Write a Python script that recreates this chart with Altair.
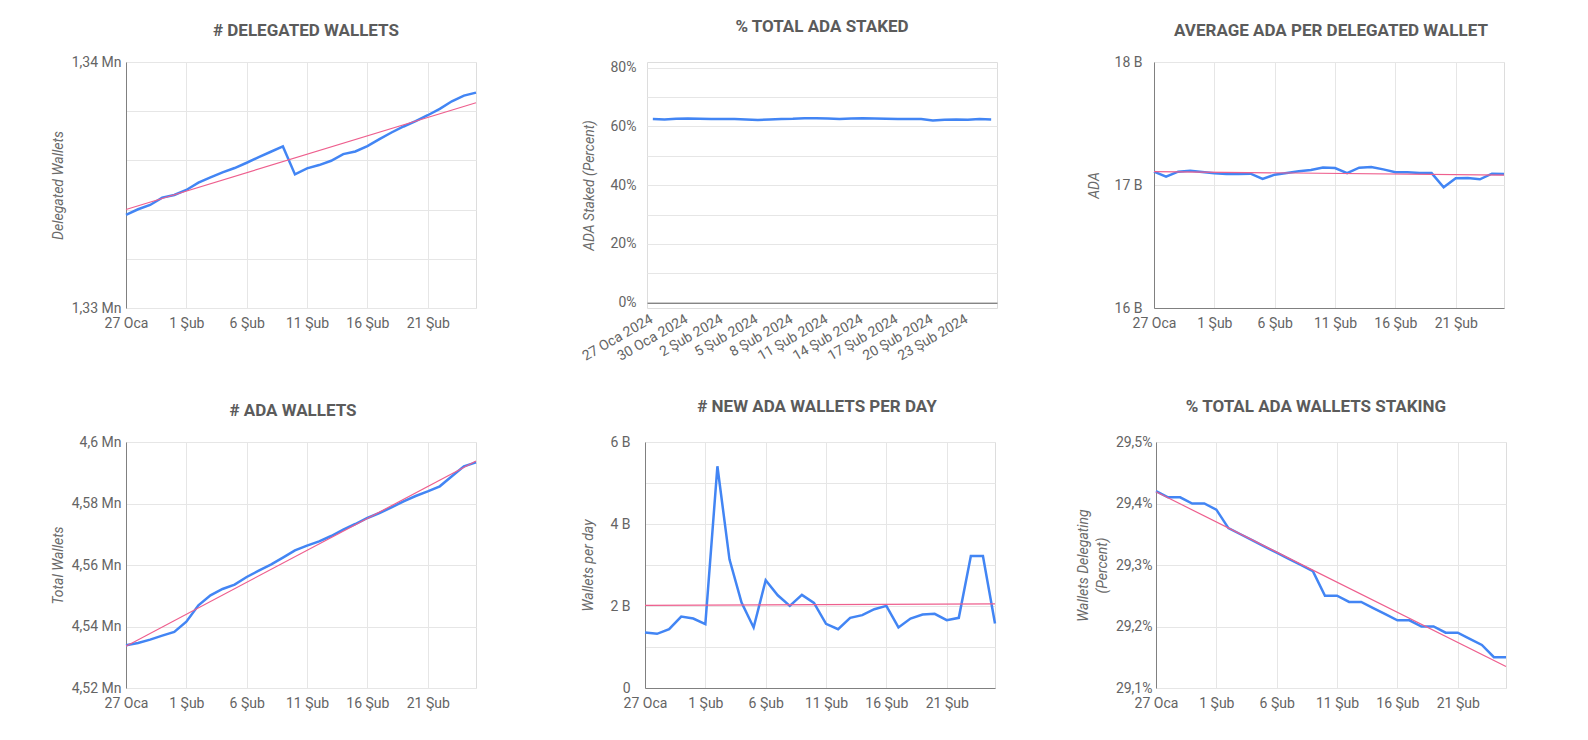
import altair as alt
import pandas as pd
from datetime import datetime, timezone, timedelta

FONT = "Roboto"
BLUE = "#4285F4"
PINK = "#EE5F8E"
GRID = "#e6e6e6"
AXIS_DARK = "#808080"
LABEL = "#646464"
TITLE_C = "#5b5b5b"

# ---- categories (30 days, 27 Jan 2024 -> 25 Feb 2024) ----
START = datetime(2024, 1, 27, tzinfo=timezone.utc)
DATES = [START + timedelta(days=i) for i in range(30)]
TS = [int(d.timestamp() * 1000) for d in DATES]
MONTHS_TR = {1: "Oca", 2: "Şub"}
DATE_LABELS = [f"{d.day} {MONTHS_TR[d.month]} {d.year}" for d in DATES]
TICK_TS = TS[0::5]            # 27 Oca, 1 Şub, 6 Şub, 11 Şub, 16 Şub, 21 Şub
TICK_LABELS_P2 = DATE_LABELS[0::3]

# ---- series values ----
DELEGATED = [1333784, 1334013, 1334189, 1334486, 1334594, 1334797, 1335094, 1335310,
             1335513, 1335689, 1335905, 1336135, 1336351, 1336567, 1335431, 1335675,
             1335810, 1335985, 1336255, 1336364, 1336580, 1336864, 1337134, 1337378,
             1337593, 1337836, 1338093, 1338404, 1338633, 1338755]
STAKED = [62.5, 62.4, 62.6, 62.7, 62.6, 62.5, 62.5, 62.5, 62.4, 62.2,
          62.4, 62.5, 62.6, 62.8, 62.8, 62.7, 62.5, 62.7, 62.8, 62.7,
          62.6, 62.5, 62.5, 62.5, 62.0, 62.3, 62.4, 62.3, 62.5, 62.4]
AVG_ADA = [17108, 17068, 17108, 17116, 17105, 17095, 17089, 17089, 17092, 17049,
           17084, 17097, 17111, 17122, 17143, 17138, 17097, 17141, 17146, 17127,
           17103, 17103, 17097, 17097, 16981, 17054, 17057, 17046, 17092, 17089]
TOTAL_WALLETS = [4533875, 4534634, 4535718, 4537019, 4538211, 4541572, 4546883, 4550135,
                 4552195, 4553604, 4556097, 4558157, 4560108, 4562384, 4564769, 4566287,
                 4567696, 4569430, 4571490, 4573333, 4575284, 4576910, 4578753, 4580704,
                 4582438, 4583956, 4585582, 4588834, 4592086, 4593387]
NEW_WALLETS = [1354, 1322, 1435, 1743, 1695, 1557, 5408, 3138, 2084, 1476,
               2627, 2262, 2003, 2270, 2076, 1565, 1435, 1711, 1776, 1922,
               2003, 1476, 1695, 1792, 1808, 1654, 1711, 3219, 3219, 1573]
STAKING_PCT = [29.42, 29.41, 29.41, 29.40, 29.40, 29.39, 29.36, 29.35, 29.34, 29.33,
               29.32, 29.31, 29.30, 29.29, 29.25, 29.25, 29.24, 29.24, 29.23, 29.22,
               29.21, 29.21, 29.20, 29.20, 29.19, 29.19, 29.18, 29.17, 29.15, 29.15]

# ---- y tick values ----
Y1_TICKS = [1330000, 1332000, 1334000, 1336000, 1338000, 1340000]
Y2_TICKS = [0, 10, 20, 30, 40, 50, 60, 70, 80]
Y3_TICKS = [16000, 17000, 18000]
Y4_TICKS = [4520000, 4530000, 4540000, 4550000, 4560000, 4570000, 4580000, 4590000, 4600000]
Y5_TICKS = [0, 1000, 2000, 3000, 4000, 5000, 6000]
Y6_TICKS = [29.1, 29.15, 29.2, 29.25, 29.3, 29.35, 29.4, 29.45, 29.5]

DATE_EXPR = "utcdate(datum.value) + ' ' + (utcmonth(datum.value) == 0 ? 'Oca' : 'Şub')"
MN_EXPR = "replace(format(datum.value / 1000000, '~g'), '.', ',') + ' Mn'"

W = 350
H = 246


def title_params(text, offset, dx):
    return alt.TitleParams(text=text, offset=offset, dx=dx, fontSize=17, fontWeight="bold",
                           color=TITLE_C, font=FONT, anchor="middle")


def y_axis(ticks, expr, ytitle, title_x, label_pad, height, domain=True):
    return alt.Axis(values=ticks, labelExpr=expr, grid=True, gridColor=GRID, domain=domain,
                    domainColor=AXIS_DARK, domainWidth=1, ticks=False, labelPadding=label_pad,
                    labelFontSize=14, labelColor=LABEL, labelFont=FONT, labelOverlap=False,
                    title=ytitle, titleX=title_x, titleY=height / 2, titleAngle=-90,
                    titleAlign="center", titleBaseline="middle", titleFontStyle="italic",
                    titleFontWeight="normal", titleFontSize=14, titleColor="#6a6a6a",
                    titleFont=FONT, titleLineHeight=19)


def ts_panel(values, title, title_offset, title_dx, ytitle, title_x, ydom, ticks, expr,
             label_pad, bottom_dark, trend=True):
    df = pd.DataFrame({"ts": TS, "v": values})
    base = alt.Chart(df)
    x = alt.X("ts:T", scale=alt.Scale(type="utc", domain=[TS[0], TS[-1]]),
              axis=alt.Axis(values=TICK_TS, labelExpr=DATE_EXPR, grid=True, gridColor=GRID,
                            domain=bottom_dark, domainColor=AXIS_DARK, ticks=False,
                            labelPadding=8, labelFlush=False, labelOverlap=False,
                            labelFontSize=14, labelColor=LABEL, labelFont=FONT, title=None))
    y = alt.Y("v:Q", scale=alt.Scale(domain=ydom, nice=False, zero=False),
              axis=y_axis(ticks, expr, ytitle, title_x, label_pad, H))
    line = base.mark_line(color=BLUE, strokeWidth=2.5).encode(x=x, y=y)
    layers = [line]
    if trend:
        tl = base.transform_regression("ts", "v").mark_line(color=PINK, strokeWidth=1.2).encode(
            x="ts:T", y="v:Q")
        layers.append(tl)
    return alt.layer(*layers).properties(width=W, height=H,
                                        title=title_params(title, title_offset, title_dx))


p1 = ts_panel(DELEGATED, "# DELEGATED WALLETS", 15, 5, "Delegated Wallets", -68,
              [1330000, 1340000], Y1_TICKS,
              f"datum.value % 10000 == 0 ? {MN_EXPR} : ''", 5, False)

# panel 2: ordinal dates; the 0..80 % range is inset inside the 246 px frame
P2_DOMAIN = [-1.8, 81.94]
df2 = pd.DataFrame({"d": DATE_LABELS, "v": STAKED})
p2 = alt.Chart(df2).mark_line(color=BLUE, strokeWidth=2.5).encode(
    x=alt.X("d:O", sort=None,
            axis=alt.Axis(values=TICK_LABELS_P2, labelAngle=-30, labelAlign="right",
                          labelBaseline="top", labelPadding=9, labelOffset=-5, ticks=False,
                          grid=False, domain=True, domainColor="#5a5a5a", labelFontSize=14,
                          offset=-5.3, labelColor=LABEL, labelFont=FONT, labelOverlap=False,
                          title=None)),
    y=alt.Y("v:Q", scale=alt.Scale(domain=P2_DOMAIN, nice=False, zero=False),
            axis=y_axis(Y2_TICKS, "datum.value % 20 == 0 ? datum.value + '%' : ''",
                        "ADA Staked (Percent)", -58, 11, H, domain=False)),
).properties(width=W, height=H, title=title_params("% TOTAL ADA STAKED", 25, 0))

p3 = ts_panel(AVG_ADA, "AVERAGE ADA PER DELEGATED WALLET", 15, 2, "ADA", -60,
              [16000, 18000], Y3_TICKS, "(datum.value / 1000) + ' B'", 12, True)

p4 = ts_panel(TOTAL_WALLETS, "# ADA WALLETS", 15, -8, "Total Wallets", -68,
              [4520000, 4600000], Y4_TICKS,
              f"datum.value % 20000 == 0 ? {MN_EXPR} : ''", 5, False)

p5 = ts_panel(NEW_WALLETS, "# NEW ADA WALLETS PER DAY", 19.5, -3, "Wallets per day", -57,
              [0, 6000], Y5_TICKS,
              "datum.value % 2000 == 0 ? (datum.value == 0 ? '0' : (datum.value / 1000) + ' B') : ''",
              15, True)

p6 = ts_panel(STAKING_PCT, "% TOTAL ADA WALLETS STAKING", 19.5, -15,
              ["Wallets Delegating", "(Percent)"], -73, [29.1, 29.5], Y6_TICKS,
              "abs(datum.value * 10 - round(datum.value * 10)) < 0.01 ? replace(format(datum.value, '.1f'), '.', ',') + '%' : ''",
              4, False)

row1 = alt.hconcat(p1, alt.hconcat(p2, p3, spacing=88), spacing=97)
row2 = alt.hconcat(p4, alt.hconcat(p5, p6, spacing=74), spacing=98)

chart = alt.vconcat(row1, row2, spacing=33).properties(
    padding={"left": 42, "top": 9, "right": 5, "bottom": 5},
    background="white",
).configure_view(stroke=None).configure(font=FONT)

chart.save("out.html", embed_options={"renderer": "svg", "actions": False})
